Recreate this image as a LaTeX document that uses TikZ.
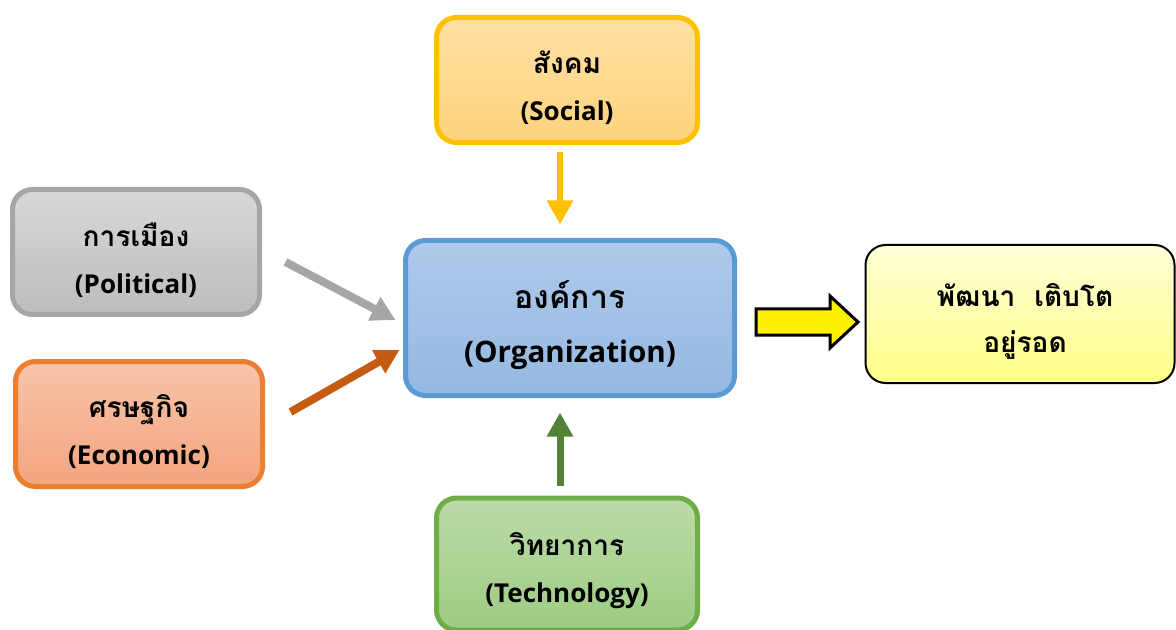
\documentclass[tikz,border=0pt]{standalone}
\usepackage{fontspec}
\setmainfont{Open Sans}
\newfontfamily\thai[Script=Thai,Scale=1.08]{Loma}
\usetikzlibrary{arrows.meta}
\definecolor{cGold}{HTML}{FFC000}
\definecolor{cGoldT}{HTML}{FFE0A3}
\definecolor{cGoldB}{HTML}{FFD37E}
\definecolor{cGrey}{HTML}{A6A6A6}
\definecolor{cGreyT}{HTML}{D8D8D8}
\definecolor{cGreyB}{HTML}{BDBDBD}
\definecolor{cOra}{HTML}{ED7D31}
\definecolor{cOraT}{HTML}{F8C4AA}
\definecolor{cOraB}{HTML}{F4A47F}
\definecolor{cOraArr}{HTML}{C55A11}
\definecolor{cBlue}{HTML}{5B9BD5}
\definecolor{cBlueT}{HTML}{AFC9E9}
\definecolor{cBlueB}{HTML}{95B9E2}
\definecolor{cGrn}{HTML}{70AD47}
\definecolor{cGrnT}{HTML}{BCDBA8}
\definecolor{cGrnB}{HTML}{9ECB83}
\definecolor{cGrnArr}{HTML}{548235}
\definecolor{cYelT}{HTML}{FFFFD8}
\definecolor{cYelB}{HTML}{FFFF88}
\begin{document}
\begin{tikzpicture}[x=0.5pt,y=-0.5pt,
  box/.style={rounded corners=10pt, line width=2.5pt, inner sep=0pt},
  txt/.style={align=center, inner sep=0pt,
    font=\bfseries\fontsize{13}{23.5}\selectfont},
  arr/.style={line width=#1, -{Triangle[length=12pt,width=12.5pt]}},
]
\useasboundingbox (0,0) rectangle (1176,630);
\node[box, draw=cGold, top color=cGoldT, bottom color=cGoldB,
  minimum width=130.5pt, minimum height=62.5pt] (soc) at (567,80) {};
\node[txt] (soc-t) at ([yshift=-4pt]soc.center) {{\thai สังคม}\\(Social)};
\node[box, draw=cGrey, top color=cGreyT, bottom color=cGreyB,
  minimum width=123.5pt, minimum height=62.5pt] (pol) at (136,252) {};
\node[txt] (pol-t) at ([yshift=-4pt]pol.center) {{\thai การเมือง}\\(Political)};
\node[box, draw=cOra, top color=cOraT, bottom color=cOraB,
  minimum width=123.5pt, minimum height=62.5pt] (eco) at (139,424) {};
\node[txt] (eco-t) at ([yshift=-4pt]eco.center) {{\thai ศรษฐกิจ}\\(Economic)};
\node[box, draw=cBlue, top color=cBlueT, bottom color=cBlueB,
  minimum width=164.5pt, minimum height=77.5pt] (org) at (570,318) {};
\node[txt, font=\bfseries\fontsize{14.8}{27}\selectfont] (org-t)
  at ([yshift=-3.5pt]org.center) {{\thai องค์การ}\\(Organization)};
\node[box, draw=cGrn, top color=cGrnT, bottom color=cGrnB,
  minimum width=130.5pt, minimum height=66pt] (tec) at (567,564) {};
\node[txt] (tec-t) at ([yshift=-3.5pt]tec.center) {{\thai วิทยาการ}\\(Technology)};
\node[box, draw=black, line width=1pt, top color=cYelT, bottom color=cYelB,
  minimum width=154.5pt, minimum height=69pt] (res) at (1020,314) {};
\node[txt, font=\bfseries\fontsize{13}{23}\selectfont] (res-t)
  at ([shift={(2.5pt,-3.5pt)}]res.center) {{\thai พัฒนา\ \ เติบโต}\\{\thai อยู่รอด}};
% arrows
\draw[arr=3pt, cGold] ([shift={(-7,7.5)}]soc.south) -- ([shift={(-10,-13.5)}]org.north);
\draw[arr=4pt, cGrey] ([shift={(23.5,10)}]pol.east) -- ([shift={(-7.5,2)}]org.west);
\draw[arr=4pt, cOraArr] ([shift={(25.5,-12)}]eco.east) -- ([shift={(-3.5,32)}]org.west);
\draw[arr=3.5pt, cGrnArr] ([shift={(-7,-10)}]tec.north) -- ([shift={(-10,14.5)}]org.south);
% block arrow
\draw[line width=1.5pt, fill=yellow, line join=miter]
  (756,309) -- (830,309) -- (830,296) -- (858,322) -- (830,348) -- (830,335) -- (756,335) -- cycle;
\end{tikzpicture}
\end{document}
